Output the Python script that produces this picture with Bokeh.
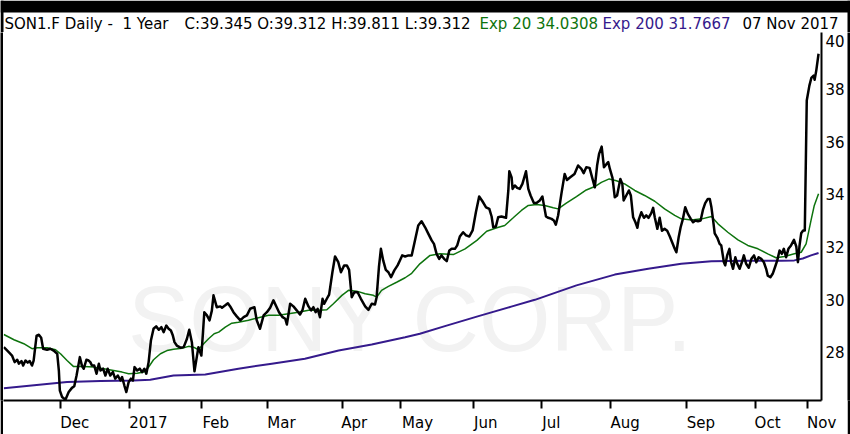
from bokeh.plotting import figure
from bokeh.layouts import column, row
from bokeh.models import Range1d, FixedTicker
from bokeh.core.properties import value
from bokeh.embed import file_html
from bokeh.resources import INLINE

# ---- data (x = trading-day index, y = price in EUR) ----
price_day = [
    0.1, 1.6, 2.6, 3.4, 4.2, 4.7, 5.5, 6.0, 6.7, 7.4, 8.0, 8.7, 9.2, 10.1, 10.8, 11.5, 12.1, 13.3, 14.3, 15.3,
    16.4, 16.9, 17.2, 17.9, 18.9, 19.9, 20.9, 21.6, 22.3, 23.3, 24.0, 24.5, 25.3, 26.0, 26.5, 27.0, 27.7, 28.4,
    29.1, 29.6, 30.4, 31.1, 31.8, 32.6, 33.4, 34.1, 34.9, 35.7, 36.2, 36.9, 37.5, 38.2, 38.9, 39.5, 40.0, 40.8,
    41.6, 42.3, 43.0, 43.6, 44.3, 45.0, 45.8, 46.6, 47.4, 48.2, 48.9, 49.7, 50.4, 51.1, 51.7, 52.2, 52.9, 54.0,
    55.0, 56.0, 56.7, 57.5, 58.0, 58.3, 59.0, 59.5, 60.4, 60.9, 61.3, 62.1, 62.9, 63.6,
    64.1, 65.1, 66.2, 66.7, 67.7, 68.5, 69.2, 70.2, 71.2, 72.3, 73.3, 74.3, 75.3, 76.6, 77.3, 78.3, 79.4, 80.4,
    81.4, 82.4, 83.4, 84.1, 85.2, 86.0, 86.5, 87.5, 88.5, 89.5, 90.5, 91.3, 92.1, 93.1, 93.9, 94.6, 95.3, 95.9,
    96.6, 97.4, 97.9, 98.7, 99.4, 100.4, 101.2, 102.2, 103.0, 104.0, 104.8, 105.5, 106.3, 107.1, 108.1, 109.1,
    110.4, 111.4, 112.4, 113.4, 113.9, 114.6, 115.2, 115.9, 116.7, 117.5, 118.3, 119.3, 120.3, 121.0, 121.7,
    122.6, 123.6, 124.6, 125.6, 126.6,
    127.6, 128.7, 129.7, 130.7, 131.4, 132.2, 133.0, 133.7, 134.5, 135.3, 136.1, 136.8, 137.8, 138.5, 139.3,
    140.3, 141.2, 142.2, 143.2, 144.2, 145.2, 146.2, 147.3, 148.3, 149.0, 149.5, 150.3, 151.0, 152.0, 153.4,
    154.1, 154.4, 155.1, 155.4, 156.1, 156.8, 157.6, 158.4, 159.5, 160.2, 160.9, 161.9, 162.7, 163.7, 164.5,
    164.9, 165.6, 166.3, 167.3, 168.0, 168.6, 169.3, 170.3, 171.3, 172.0, 173.0, 174.3, 175.4, 176.4, 177.1,
    177.9, 178.9, 179.8, 180.5, 181.2, 181.8, 182.6, 183.3, 184.1, 184.6, 185.1, 185.9, 186.6, 187.3, 187.9,
    188.3, 188.9, 189.3,
    190.1, 190.9, 191.5, 192.2, 192.9, 193.5, 193.9, 194.7, 195.5, 196.2, 196.9, 197.7, 198.3, 198.8, 199.6,
    200.3, 201.0, 201.8, 202.6, 203.4, 204.1, 204.9, 205.4, 206.1, 206.7, 207.4, 208.1, 208.9, 209.8, 210.5,
    211.2, 212.0, 212.8, 213.5, 214.2, 215.0, 215.6, 216.1, 216.6, 217.1, 217.9, 218.6, 219.1, 219.9, 220.3,
    220.9, 221.6, 222.1, 222.7, 223.4, 224.0, 224.7, 225.4, 226.0, 226.7, 227.5, 228.3, 229.1, 229.8, 230.5,
    231.3, 232.1, 232.8, 233.3, 234.1, 234.8, 235.5, 236.2, 236.9, 237.6, 238.2, 238.9, 239.6, 240.4, 241.3,
    242.0, 242.5, 243.0, 243.5, 244.1, 244.6,
    245.2, 246.0, 246.6, 247.3, 247.6, 248.1, 248.8,
]
price_close = [
    28.19, 28.00, 27.87, 27.62, 27.71, 27.56, 27.66, 27.49, 27.68, 27.60, 27.66, 27.49, 27.68, 28.63, 28.66, 28.55,
    28.13, 28.09, 28.13, 28.06, 27.94, 27.30, 26.54, 26.29, 26.19, 26.48, 26.64, 26.70, 27.11, 27.81, 27.46, 27.37,
    27.71, 27.68, 27.62, 27.49, 27.49, 27.18, 27.56, 27.30, 27.37, 27.11, 27.37, 27.11, 27.24, 26.99, 27.11, 26.92,
    27.05, 26.73, 26.48, 26.86, 26.99, 26.92, 27.43, 27.30, 27.37, 27.24, 27.37, 27.18, 27.62, 28.44, 28.89, 28.98,
    28.85, 28.95, 28.76, 29.01, 28.89, 28.82, 28.63, 28.38, 28.25, 28.17, 28.19, 28.51, 28.85, 28.38, 27.68, 27.27,
    27.81, 28.19, 27.87, 28.76, 29.52, 29.40, 29.21, 29.58,
    30.16, 29.71, 29.74, 29.69, 29.78, 29.86, 29.74, 29.52, 29.36, 29.21, 29.33, 29.40, 29.65, 29.71, 29.21, 28.89,
    29.40, 29.52, 29.69, 29.97, 29.71, 29.52, 29.33, 29.27, 29.05, 29.84, 29.74, 29.59, 29.43, 29.61, 30.03, 29.74,
    29.59, 29.71, 29.52, 29.65, 29.33, 30.03, 29.84, 30.03, 30.19, 31.04, 31.64, 31.42, 31.04, 31.30, 31.30, 31.13,
    30.09, 30.28, 30.28, 30.03, 29.74, 29.61, 29.84, 29.81, 30.09, 31.23, 31.93, 31.49, 31.13, 31.04, 30.85, 31.11,
    31.30, 31.49, 31.68, 31.64, 31.68, 31.68, 32.25, 32.82,
    32.98, 32.75, 32.50, 32.25, 32.12, 31.74, 31.55, 31.68, 31.55, 31.46, 31.87, 31.93, 31.93, 32.06, 32.40, 32.56,
    32.44, 32.40, 32.63, 33.32, 33.92, 33.74, 33.51, 33.45, 33.16, 32.75, 32.78, 33.13, 33.16, 33.11, 34.15, 34.88,
    34.65, 34.21, 34.34, 34.25, 34.21, 34.40, 34.88, 34.21, 33.96, 33.67, 33.67, 33.77, 33.92, 33.64, 33.16, 33.11,
    33.07, 33.01, 32.85, 33.20, 34.02, 34.78, 34.55, 34.65, 34.78, 35.10, 34.97, 34.81, 35.03, 35.01, 34.59, 34.27,
    35.10, 35.54, 35.82, 35.03, 35.16, 35.23, 34.97, 34.63, 33.89, 33.96, 34.34, 34.59, 34.40, 33.77,
    33.96, 34.15, 33.96, 33.13, 32.94, 32.73, 33.03, 33.32, 33.11, 33.20, 33.11, 33.28, 33.49, 33.13, 32.69, 33.11,
    32.62, 32.69, 32.62, 32.40, 32.18, 31.93, 31.80, 32.37, 32.75, 33.07, 33.51, 33.26, 33.07, 32.94, 33.01, 32.98,
    33.01, 33.41, 33.67, 33.83, 33.83, 33.51, 33.03, 32.52, 32.35, 32.12, 32.06, 31.42, 31.30, 31.68, 31.93, 31.42,
    31.17, 31.61, 31.36, 31.17, 31.42, 31.68, 31.36, 31.21, 31.55, 31.68, 31.42, 31.61, 31.55, 31.42, 31.17, 30.91,
    30.85, 30.98, 31.23, 31.49, 31.87, 31.74, 31.93, 31.61, 31.93, 32.06, 32.27, 32.02, 31.42, 32.06, 32.52, 32.63,
    32.63,
    37.57, 38.14, 38.43, 38.52, 38.36, 38.71, 39.35,
]

ema20_day = [
    0.1, 3.2, 6.2, 8.7, 10.3, 13.3, 15.9, 17.4, 19.4, 21.4, 24.5, 27.5, 30.6, 33.6, 36.2, 38.2, 40.8, 42.8, 44.3,
    45.8, 47.9, 49.9, 51.9, 54.5, 56.5, 58.0, 59.5, 61.1, 62.6, 64.3, 65.7, 67.7, 69.7, 71.7, 74.8, 77.8, 80.9,
    83.9, 87.0, 90.0, 93.1, 96.1, 98.7, 100.7, 103.3, 105.3, 107.8, 110.4, 112.9, 113.9, 115.4, 117.5, 120.0,
    122.6, 124.6, 127.1, 130.2, 133.2, 137.3, 140.9, 144.5, 147.5, 150.6, 153.0, 155.6, 158.1, 160.2, 162.7,
    165.2, 167.8, 169.3, 171.8, 174.9, 177.9, 180.5, 182.5, 184.9, 187.1, 189.6, 192.7, 195.7, 198.8, 201.8,
    204.9, 206.9, 210.0, 213.2, 216.1, 218.1, 221.1, 224.2, 227.2, 230.3, 233.3, 235.8, 238.4, 241.4, 243.5,
    245.0, 246.5, 247.5, 248.8,
]
ema20_val = [
    28.67, 28.47, 28.32, 28.13, 28.17, 28.17, 28.09, 27.94, 27.68, 27.45, 27.45, 27.43, 27.37, 27.30, 27.24, 27.18,
    27.20, 27.24, 27.43, 27.71, 27.94, 28.06, 28.11, 28.15, 28.22, 28.19, 28.09, 28.32, 28.51, 28.70, 28.76, 28.95,
    29.10, 29.14, 29.21, 29.31, 29.40, 29.40, 29.46, 29.52, 29.59, 29.59, 29.61, 29.84, 30.16, 30.35, 30.32, 30.22,
    30.16, 30.09, 30.35, 30.50, 30.66, 30.83, 31.00, 31.36, 31.68, 31.74, 31.71, 31.93, 32.25, 32.60, 32.73, 32.82,
    33.11, 33.39, 33.58, 33.62, 33.58, 33.49, 33.45, 33.67, 33.92, 34.17, 34.30, 34.46, 34.59, 34.52, 34.40, 34.15,
    33.96, 33.74, 33.45, 33.20, 33.07, 33.03, 33.07, 33.16, 32.88, 32.56, 32.27, 32.06, 31.93, 31.74, 31.59, 31.64,
    31.74, 31.80, 32.12, 33.01, 33.58, 34.03,
]

ema200_day = [0.1, 19.4, 29.6, 39.7, 44.8, 51.9, 61.6, 71.7, 81.9, 92.0, 102.3, 112.4, 122.6, 127.1, 135.0,
              145.0, 155.0, 162.2, 174.9, 186.6, 196.8, 206.9, 216.1, 227.2, 237.4, 241.4, 244.0, 246.5, 248.8]
ema200_val = [26.63, 26.86, 26.90, 26.92, 26.95, 27.11, 27.15, 27.37, 27.56, 27.75, 28.06, 28.29, 28.57, 28.70,
              29.00, 29.37, 29.73, 29.99, 30.54, 30.95, 31.17, 31.36, 31.46, 31.48, 31.48, 31.49, 31.56, 31.68, 31.77]

month_ticks = [17.4, 38.4, 60.4, 80.5, 103.4, 121.3, 143.6, 164.3, 185.4, 208.5, 229.6, 245.4]
month_labels = ["Dec", "2017", "Feb", "Mar", "Apr", "May", "Jun", "Jul", "Aug", "Sep", "Oct", "Nov"]
# the top "40" label sits slightly below its level in the original (pushed inside the plot)
price_ticks = [28, 30, 32, 34, 36, 38, 39.82]
price_labels = ["28", "30", "32", "34", "36", "38", "40"]

header_texts = ["SON1.F Daily -\u00a0 1 Year", "C:39.345 O:39.312 H:39.811 L:39.312",
                "Exp 20 34.0308", "Exp 200 31.7667", "07 Nov 2017"]
watermark = "SONY CORP."

PRICE_COLOR = "#000000"
EMA20_COLOR = "#0d730d"
EMA200_COLOR = "#351a8c"
FONT = "DejaVu Sans"
header_colors = ["black", "black", EMA20_COLOR, EMA200_COLOR, "black"]
header_x = [4, 184, 479, 602, 742]          # pixel positions in the header strip

# DejaVu Sans advance widths (em) used to left-align month labels at their ticks
ADV = {"D": .770, "e": .615, "c": .550, "2": .636, "0": .636, "1": .636, "7": .636, "F": .575, "b": .635,
       "M": .863, "a": .613, "r": .411, "A": .684, "p": .635, "y": .592, "J": .295, "u": .634, "n": .634,
       "l": .278, "g": .635, "S": .635, "O": .787, "t": .392, "N": .748, "o": .612, "v": .592}


def left_aligned(label):
    w = sum(ADV.get(ch, .6) for ch in label)
    return "\u00a0" * int(round(w / 0.318)) + label


def black_strip(w, h):
    s = figure(width=w, height=h, output_backend="svg", toolbar_location=None, tools="", title=None,
               x_axis_type=None, y_axis_type=None, min_border=0,
               min_border_left=0, min_border_right=0, min_border_top=0, min_border_bottom=0)
    s.background_fill_color = "black"
    s.border_fill_color = "black"
    s.outline_line_color = None
    s.grid.visible = False
    return s


W = 850
HEAD_H = 32
MAIN_H = 434 - HEAD_H
SIDE = 3
BAND = 12

# ---------------- header strip (frame = whole strip, pixel coordinates, y downward) ----------------
head = figure(width=W, height=HEAD_H, output_backend="svg", toolbar_location=None, tools="", title=None,
              x_range=Range1d(0, W), y_range=Range1d(HEAD_H, 0),
              x_axis_type=None, y_axis_type=None, min_border=0,
              min_border_left=0, min_border_right=0, min_border_top=0, min_border_bottom=0)
head.border_fill_color = "white"
head.background_fill_color = "white"
head.outline_line_color = None
head.grid.visible = False
# black screenshot frame: top band and side edges
head.quad(left=[0, 0, W - SIDE], right=[W, SIDE, W], top=[0, 0, 0], bottom=[BAND, HEAD_H, HEAD_H],
          fill_color="black", line_color=None)
# (the SVG text lands about 5px below the requested baseline, so ask for 23.5 to sit at ~28.5)
head.text(x=header_x, y=[23.5] * len(header_x), text=header_texts, text_color=header_colors,
          text_font=value(FONT), text_font_size=value("15px"), text_baseline="alphabetic", text_align="left")

# ---------------- main chart ----------------
X0, X1 = 0.0, 249.7
Y0, Y1 = 26.16, 40.16

p = figure(width=W - 2 * SIDE, height=MAIN_H, output_backend="svg", toolbar_location=None, tools="", title=None,
           x_range=Range1d(X0, X1), y_range=Range1d(Y0, Y1),
           y_axis_location="right",
           min_border_left=0, min_border_top=0, min_border_right=25, min_border_bottom=34)
p.background_fill_color = "white"
p.border_fill_color = "white"
p.outline_line_color = None
p.xgrid.visible = False
p.ygrid.visible = False

# faint watermark behind the lines
p.text(x=[38.0], y=[29.25], text=[watermark], text_font=value("Liberation Sans"),
       text_font_size=value("92px"), text_color="#f2f2f2", text_baseline="alphabetic", text_align="left")

p.line(ema200_day, ema200_val, line_color=EMA200_COLOR, line_width=2)
p.line(ema20_day, ema20_val, line_color=EMA20_COLOR, line_width=1.5)
p.line(price_day, price_close, line_color=PRICE_COLOR, line_width=2.5, line_join="round")

xa = p.xaxis[0]
xa.ticker = FixedTicker(ticks=month_ticks)
xa.major_label_overrides = {t: left_aligned(l) for t, l in zip(month_ticks, month_labels)}
xa.axis_line_width = 2
xa.axis_line_color = "black"
xa.major_tick_line_width = 2
xa.major_tick_out = 8
xa.major_tick_in = 0
xa.minor_tick_out = 0
xa.minor_tick_in = 0
xa.major_label_standoff = 5
xa.major_label_text_font = FONT
xa.major_label_text_font_size = "15px"
xa.major_label_text_color = "black"

ya = p.yaxis[0]
ya.ticker = FixedTicker(ticks=price_ticks)
ya.major_label_overrides = {t: l for t, l in zip(price_ticks, price_labels)}
ya.axis_line_width = 2
ya.axis_line_color = "black"
ya.major_tick_out = 0
ya.major_tick_in = 0
ya.minor_tick_out = 0
ya.minor_tick_in = 0
ya.major_label_standoff = 4
ya.major_label_text_font = FONT
ya.major_label_text_font_size = "15px"
ya.major_label_text_color = "black"

middle = row(black_strip(SIDE, MAIN_H), p, black_strip(SIDE, MAIN_H), spacing=0)
layout = column(head, middle, spacing=0)
open("out.html", "w").write(file_html(layout, INLINE))
